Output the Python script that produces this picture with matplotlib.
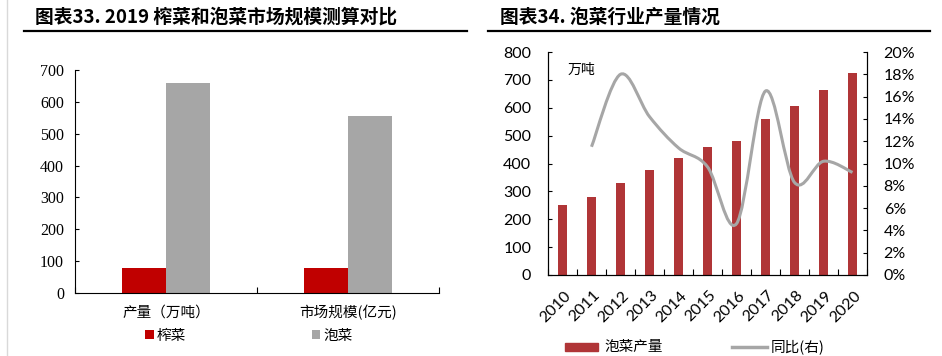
import numpy as np
import matplotlib.pyplot as plt
from matplotlib.path import Path
from matplotlib.patches import PathPatch, Rectangle
from matplotlib.lines import Line2D

plt.rcParams['font.family'] = ['Noto Sans CJK SC', 'DejaVu Sans']

# 图表33 数据
groups = ['产量（万吨）', '市场规模(亿元)']
zhacai = [78, 80]
paocai = [660, 556]
left_yticks = [0, 100, 200, 300, 400, 500, 600, 700]

# 图表34 数据
years = ['2010', '2011', '2012', '2013', '2014', '2015', '2016', '2017', '2018', '2019', '2020']
output = [250, 280, 330, 375, 418, 460, 480, 558, 605, 665, 725]
yoy = [np.nan, 11.5, 18.0, 14.2, 11.4, 9.7, 4.6, 16.5, 8.3, 10.2, 9.2]

W, H = 942, 356
fig = plt.figure(figsize=(W / 100, H / 100), dpi=100)


def box(x0, y0, x1, y1):
    # pixel box (top-left origin) -> figure fraction
    return [x0 / W, 1 - y1 / H, (x1 - x0) / W, (y1 - y0) / H]


def fx(x):
    return x / W


def fy(y):
    return 1 - y / H


serif = 'Liberation Serif'
sans_num = 'Lato'
cjk = ['Noto Sans CJK SC', 'DejaVu Sans']

# 页面边框 + 标题
fig.add_artist(Line2D([fx(7), fx(7)], [0, 1], color='#D9D9D9', lw=1))
fig.text(fx(35), fy(17), '图表33. 2019 榨菜和泡菜市场规模测算对比', fontsize=13.5,
         fontweight='bold', va='center', ha='left', family=cjk)
fig.add_artist(Line2D([fx(24), fx(467)], [fy(31), fy(31)], color='black', lw=1.6))
fig.text(fx(500), fy(17), '图表34. 泡菜行业产量情况', fontsize=13.5,
         fontweight='bold', va='center', ha='left', family=cjk)
fig.add_artist(Line2D([fx(488), fx(930)], [fy(31), fy(31)], color='black', lw=1.6))

# ---- 左图 ----
ax1 = fig.add_axes(box(75, 70, 439, 293))
xc = np.arange(len(groups)) + 0.5
bw = 0.24
ax1.bar(xc - bw / 2, zhacai, bw, color='#C00000', label='榨菜')
ax1.bar(xc + bw / 2, paocai, bw, color='#A6A6A6', label='泡菜')
ax1.set_xlim(0, 2)
ax1.set_ylim(0, 700)
ax1.set_yticks(left_yticks)
ax1.set_yticklabels([str(v) for v in left_yticks], family=serif, fontsize=11.5)
ax1.set_xticks([0, 1, 2])
ax1.set_xticklabels([])
ax1.tick_params(axis='y', direction='in', length=3, pad=8)
ax1.tick_params(axis='x', direction='in', length=4)
for s in ['top', 'right']:
    ax1.spines[s].set_visible(False)
for i, g in enumerate(groups):
    ax1.text(xc[i], -60, g, ha='center', va='center', fontsize=10.5, family=cjk,
             transform=ax1.transData, clip_on=False)
ax1.legend(loc='center', bbox_to_anchor=(fx(249), fy(336)), bbox_transform=fig.transFigure,
           ncol=2, frameon=False, handlelength=0.6, handleheight=0.6,
           handletextpad=0.2, columnspacing=8.6, prop={'family': cjk, 'size': 10.5})

# ---- 右图 ----
ax2 = fig.add_axes(box(548, 52, 867, 275))
x = np.arange(len(years))
ax2.bar(x, output, 0.33, color='#B03537', label='泡菜产量')
ax2.set_xlim(-0.5, len(years) - 0.5)
ax2.set_ylim(0, 800)
ax2.set_yticks(range(0, 801, 100))
ax2.set_yticklabels([str(v) for v in range(0, 801, 100)], family=sans_num, fontsize=11.5)
ax2.set_xticks(np.arange(len(years) + 1) - 0.5, minor=False)
ax2.set_xticklabels([])
ax2.tick_params(axis='y', direction='in', length=3, pad=12)
ax2.tick_params(axis='x', direction='in', length=4)
ax2.spines['top'].set_visible(False)
for i, yr in enumerate(years):
    ax2.text(i + 0.05, -48, yr, rotation=45, ha='right', va='top', rotation_mode='anchor',
             fontsize=11.5, family=sans_num, transform=ax2.transData, clip_on=False)
ax2.text(0.06, 0.92, '万吨', transform=ax2.transAxes, fontsize=10, family=cjk,
         ha='left', va='center')

ax3 = ax2.twinx()
ax3.set_ylim(0, 20)
ax3.set_yticks(range(0, 21, 2))
ax3.set_yticklabels(['%d%%' % v for v in range(0, 21, 2)], family=sans_num, fontsize=11.5)
ax3.tick_params(axis='y', direction='in', length=3, pad=12)
ax3.spines['top'].set_visible(False)

# 平滑曲线 (Catmull-Rom -> Bezier)
pts = np.array([(xi, yi) for xi, yi in zip(x, yoy) if not np.isnan(yi)], dtype=float)
ext = np.vstack([pts[0], pts, pts[-1]])
verts = [tuple(pts[0])]
codes = [Path.MOVETO]
for i in range(1, len(ext) - 2):
    p0, p1, p2, p3 = ext[i - 1], ext[i], ext[i + 1], ext[i + 2]
    c1 = p1 + (p2 - p0) / 6
    c2 = p2 - (p3 - p1) / 6
    verts += [tuple(c1), tuple(c2), tuple(p2)]
    codes += [Path.CURVE4] * 3
ax3.add_patch(PathPatch(Path(verts, codes), facecolor='none', edgecolor='#A6A6A6', lw=2.2))

fig.add_artist(Rectangle((fx(565), fy(351)), fx(598) - fx(565), fy(343) - fy(351),
                         color='#B03537', transform=fig.transFigure))
fig.text(fx(604), fy(347), '泡菜产量', fontsize=10.5, family=cjk, va='center', ha='left')
fig.add_artist(Line2D([fx(732), fx(767)], [fy(347), fy(347)], color='#A6A6A6', lw=2.5))
fig.text(fx(771), fy(347), '同比(右)', fontsize=10.5, family=cjk, va='center', ha='left')

fig.savefig('out.png', dpi=100)
